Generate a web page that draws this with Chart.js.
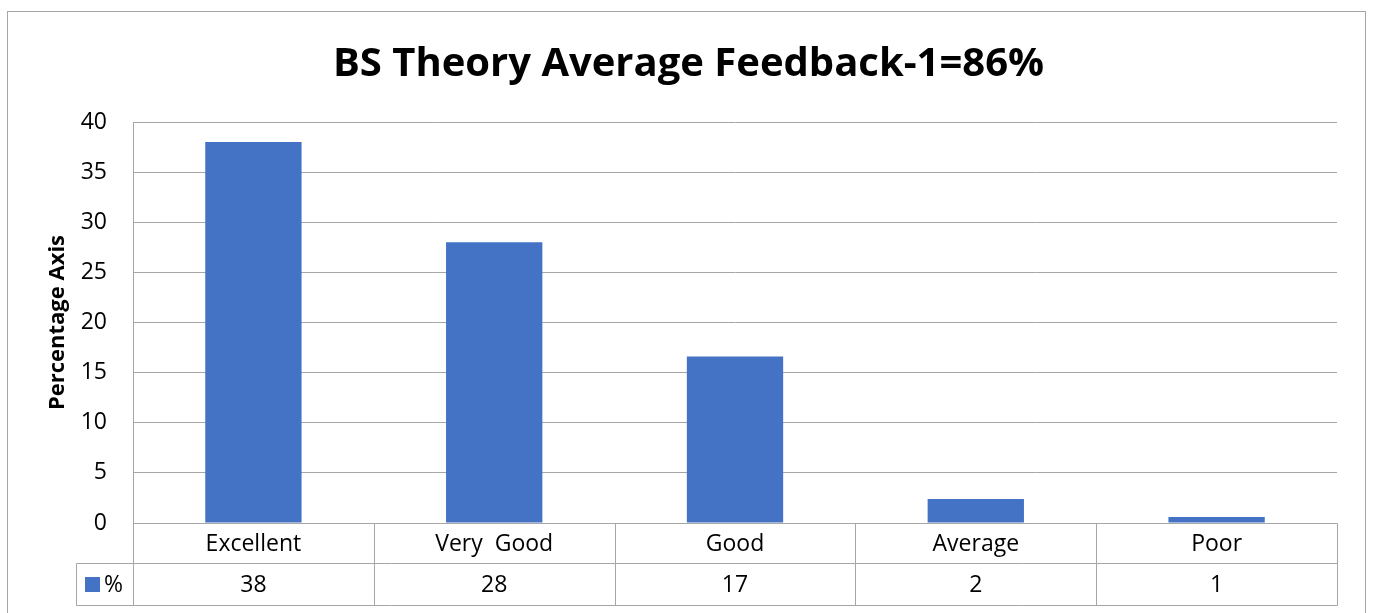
<!DOCTYPE html>
<html>
<head>
<meta charset="utf-8">
<script src="https://cdn.jsdelivr.net/npm/chart.js@4"></script>
<style>
  html, body { margin: 0; padding: 0; background: #fff; }
  #wrap { width: 1373px; height: 613px; }
</style>
</head>
<body>
<div id="wrap"><canvas id="feedbackChart" width="1373" height="613"></canvas></div>
<script>
// data
const categories = ['Excellent', 'Very  Good', 'Good', 'Average', 'Poor'];
const percentValues = [38, 28, 16.6, 2.4, 0.6];
const tableValues = ['38', '28', '17', '2', '1'];
const seriesName = '%';
const chartTitle = 'BS Theory Average Feedback-1=86%';
const yAxisTitle = 'Percentage Axis';

const BAR_COLOR = '#4472C4';
const LINE_COLOR = '#a6a6a6';
const FONT = '"Open Sans", "DejaVu Sans", sans-serif';

// Excel-style data table under the plot + outer chart border
const dataTablePlugin = {
    id: 'dataTable',
    afterDraw(chart) {
        const { ctx, chartArea, scales: { x } } = chart;
        const px = v => Math.round(v) + 0.5;
        const top = chartArea.bottom;
        const mid = top + 40;
        const bottom = top + 82;
        const legendLeft = 76;
        const half = (x.getPixelForTick(1) - x.getPixelForTick(0)) / 2;

        ctx.save();
        ctx.strokeStyle = LINE_COLOR;
        ctx.lineWidth = 1;

        // outer border of the chart object
        ctx.strokeRect(7.5, 11.5, 1358, 640);

        ctx.beginPath();
        // horizontal rules
        ctx.moveTo(px(chartArea.left), px(top)); ctx.lineTo(px(chartArea.right), px(top));
        ctx.moveTo(px(legendLeft), px(mid)); ctx.lineTo(px(chartArea.right), px(mid));
        ctx.moveTo(px(legendLeft), px(bottom)); ctx.lineTo(px(chartArea.right), px(bottom));
        // legend cell left edge
        ctx.moveTo(px(legendLeft), px(mid)); ctx.lineTo(px(legendLeft), px(bottom));
        // column separators
        categories.forEach((c, i) => {
            const edge = x.getPixelForTick(i) - half;
            ctx.moveTo(px(edge), px(top)); ctx.lineTo(px(edge), px(bottom));
        });
        ctx.moveTo(px(chartArea.right), px(top)); ctx.lineTo(px(chartArea.right), px(bottom));
        ctx.stroke();

        // text cells
        ctx.fillStyle = '#000';
        ctx.font = '23px ' + FONT;
        ctx.textAlign = 'center';
        ctx.textBaseline = 'middle';
        categories.forEach((c, i) => {
            const cx = x.getPixelForTick(i);
            ctx.fillText(c, cx, (top + mid) / 2 + 1);
            ctx.fillText(tableValues[i], cx, (mid + bottom) / 2 + 1);
        });

        // legend key
        ctx.fillStyle = BAR_COLOR;
        ctx.fillRect(85, mid + 14, 15, 15);
        ctx.fillStyle = '#000';
        ctx.textAlign = 'left';
        ctx.fillText(seriesName, 104, (mid + bottom) / 2 + 1);
        ctx.restore();
    }
};

new Chart(document.getElementById('feedbackChart'), {
    type: 'bar',
    data: {
        labels: categories,
        datasets: [{
            label: seriesName,
            data: percentValues,
            backgroundColor: BAR_COLOR,
            barPercentage: 0.4,
            categoryPercentage: 1.0
        }]
    },
    options: {
        responsive: false,
        animation: false,
        layout: { padding: { top: 12, left: 40, right: 36, bottom: 8 } },
        plugins: {
            legend: { display: false },
            tooltip: { enabled: false },
            title: {
                display: true,
                text: chartTitle,
                color: '#000',
                font: { family: FONT, size: 40, weight: 'bold', lineHeight: 1.2 },
                padding: { top: 29, bottom: 33 }
            }
        },
        scales: {
            x: {
                ticks: { display: false },
                grid: { display: false },
                border: { display: false },
                afterFit: scale => { scale.height = 82; }
            },
            y: {
                min: 0,
                max: 40,
                ticks: { stepSize: 5, color: '#000', padding: 26, font: { family: FONT, size: 23 } },
                grid: { color: LINE_COLOR, drawTicks: false },
                border: { display: true, color: LINE_COLOR },
                title: {
                    display: true,
                    text: yAxisTitle,
                    color: '#000',
                    font: { family: FONT, size: 22, weight: 'bold', lineHeight: 1.2 },
                    padding: { top: 5, bottom: 0 }
                },
                afterFit: scale => { scale.width = 93; }
            }
        }
    },
    plugins: [dataTablePlugin]
});
</script>
</body>
</html>
